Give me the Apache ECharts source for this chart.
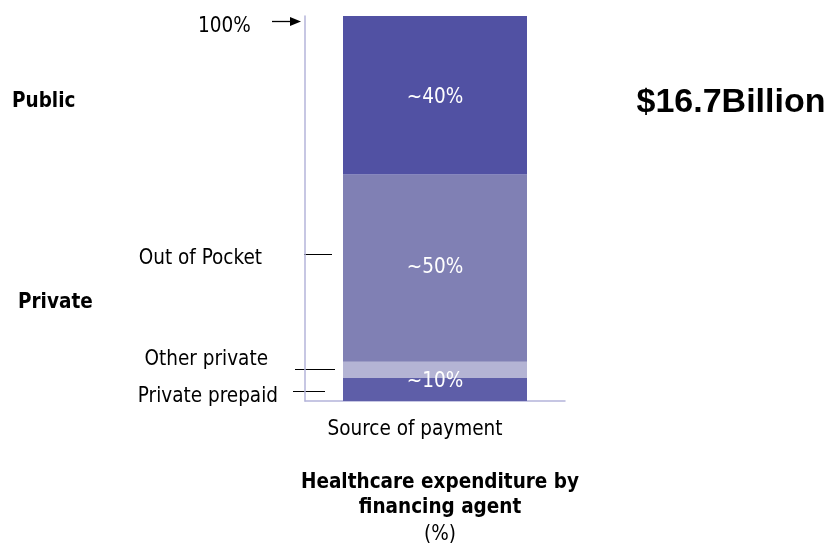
<!DOCTYPE html>
<html>
<head>
<meta charset="utf-8">
<script src="https://cdn.jsdelivr.net/npm/echarts@6/dist/echarts.min.js"></script>
<style>html,body{margin:0;padding:0;background:#fff}#c{width:834px;height:549px}</style>
</head>
<body>
<div id="c"></div>
<script>
const categories = ['Source of payment'];
const privatePrepaid = [6.0];
const otherPrivate = [4.2];
const outOfPocket = [48.6];
const publicShare = [41.2];
const segmentLabels = ['~10%', '', '~50%', '~40%'];
const totalLabel = '$16.7Billion';

const F = '"DejaVu Sans Condensed", "DejaVu Sans", sans-serif';
const FS = 20.5;
const chart = echarts.init(document.getElementById('c'), null, {renderer: 'canvas'});

function seg(name, data, color, labelText, offset) {
  return {
    name, type: 'bar', stack: 'total', data, barWidth: 184,
    itemStyle: {color},
    label: {
      show: !!labelText, position: 'inside', offset: offset || [0, 0],
      formatter: () => labelText, color: '#fff', fontFamily: F, fontSize: FS
    },
    emphasis: {disabled: true}
  };
}

const option = {
  animation: false,
  title: {
    text: 'Healthcare expenditure by\nfinancing agent',
    subtext: '(%)',
    left: 435, top: 465, textAlign: 'center', itemGap: 2,
    textStyle: {fontFamily: F, fontSize: FS, fontWeight: 'bold', color: '#000', lineHeight: 25},
    subtextStyle: {fontFamily: F, fontSize: FS, color: '#000', lineHeight: 25}
  },
  grid: {left: 305, top: 16, width: 260, height: 385},
  xAxis: {
    type: 'category', data: categories,
    axisLine: {lineStyle: {color: '#B4B4DA', width: 1.5}},
    axisTick: {show: false},
    axisLabel: {fontFamily: F, fontSize: FS, color: '#000', margin: 18, padding: [0, 40, 0, 0]}
  },
  yAxis: {
    type: 'value', min: 0, max: 100,
    axisLine: {show: true, lineStyle: {color: '#B4B4DA', width: 1.5}},
    axisTick: {show: false}, axisLabel: {show: false}, splitLine: {show: false}
  },
  series: [
    seg('Private prepaid', privatePrepaid, '#5E5EA8', segmentLabels[0], [0, -8]),
    seg('Other private', otherPrivate, '#B4B4D4', segmentLabels[1]),
    seg('Out of Pocket', outOfPocket, '#8080B4', segmentLabels[2], [0, -1]),
    seg('Public', publicShare, '#5151A3', segmentLabels[3], [0, 2])
  ],
  graphic: [
    {type: 'text', x: 198, y: 27, style: {text: '100%', font: FS + 'px ' + F, fill: '#000', verticalAlign: 'middle'}},
    {type: 'line', shape: {x1: 272, y1: 21.5, x2: 292, y2: 21.5}, style: {stroke: '#000', lineWidth: 1.3}},
    {type: 'polygon', shape: {points: [[290, 17], [301, 21.5], [290, 26]]}, style: {fill: '#000'}},
    {type: 'text', x: 12, y: 102, style: {text: 'Public', font: 'bold ' + FS + 'px ' + F, fill: '#000', verticalAlign: 'middle'}},
    {type: 'text', x: 18, y: 303, style: {text: 'Private', font: 'bold ' + FS + 'px ' + F, fill: '#000', verticalAlign: 'middle'}},
    {type: 'text', x: 262, y: 259, style: {text: 'Out of Pocket', font: FS + 'px ' + F, fill: '#000', align: 'right', verticalAlign: 'middle'}},
    {type: 'line', shape: {x1: 304, y1: 254.5, x2: 332, y2: 254.5}, style: {stroke: '#000', lineWidth: 1}},
    {type: 'text', x: 268, y: 360, style: {text: 'Other private', font: FS + 'px ' + F, fill: '#000', align: 'right', verticalAlign: 'middle'}},
    {type: 'line', shape: {x1: 295, y1: 369.5, x2: 335, y2: 369.5}, style: {stroke: '#000', lineWidth: 1}},
    {type: 'text', x: 278, y: 397, style: {text: 'Private prepaid', font: FS + 'px ' + F, fill: '#000', align: 'right', verticalAlign: 'middle'}},
    {type: 'line', shape: {x1: 293, y1: 391.5, x2: 325, y2: 391.5}, style: {stroke: '#000', lineWidth: 1}},
    {type: 'text', x: 731, y: 103, style: {text: totalLabel, font: 'bold 34px "Liberation Sans", Arial, sans-serif', fill: '#000', align: 'center', verticalAlign: 'middle'}}
  ]
};
chart.setOption(option);
</script>
</body>
</html>
